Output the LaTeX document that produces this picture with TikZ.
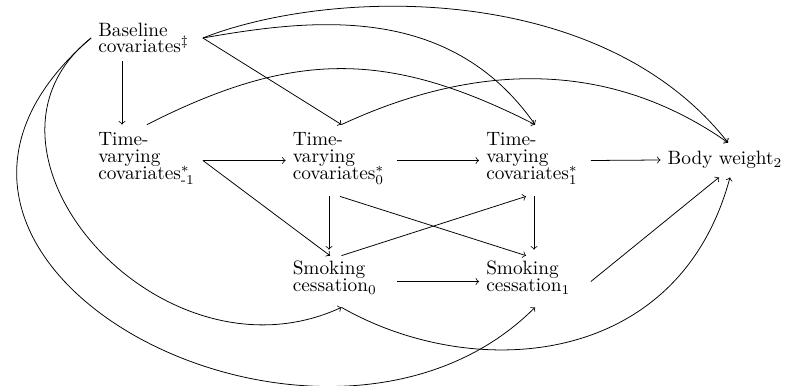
\documentclass[tikz,border=0pt]{standalone}
\usepackage{amsmath}
\usetikzlibrary{calc}
\begin{document}
\begin{tikzpicture}[x=0.518pt,y=-0.518pt,
  box/.style={inner xsep=3.5pt, inner ysep=0pt, text width=50.5pt, align=left,
    font={\fontsize{10pt}{8.65pt}\selectfont\lineskiplimit=-50pt}},
  twol/.style={box, minimum height=23.8pt},
  threel/.style={box, minimum height=36.8pt},
  arr/.style={->},
  vshort/.style={->, shorten >=3.1pt}]
\useasboundingbox (0,0) rectangle (788,386);

\node[twol]   (B)  at (147,38)    {Baseline\\covariates$^{\ddagger}$};
\node[threel] (Tm) at (147,160.5) {Time-\\varying\\covariates$^{*}_{\text{-1}}$\rule[-4.5pt]{0pt}{1pt}};
\node[threel] (T0) at (341.5,160.5) {Time-\\varying\\covariates$^{*}_{0}$\rule[-4.5pt]{0pt}{1pt}};
\node[threel] (T1) at (535,160.5) {Time-\\varying\\covariates$^{*}_{1}$\rule[-4.5pt]{0pt}{1pt}};
\node[box, minimum height=26.4pt] (S0) at (341.5,281.5) {Smoking\\cessation$_{0}$\rule[-5.5pt]{0pt}{1pt}};
\node[box, minimum height=26.4pt] (S1) at (535,281.5) {Smoking\\cessation$_{1}$\rule[-5.5pt]{0pt}{1pt}};
\node[inner xsep=3.5pt, inner ysep=0pt, minimum height=17.6pt, font=\fontsize{10pt}{12pt}\selectfont] (BW) at (725,160) {Body weight$_{2}$};

% straight connectors
\draw[arr] ($(B.south)+(-25,0)$) -- ($(Tm.north)+(-25,0)$);
\draw[arr] (B.east) -- (T0.north);
\draw[arr] (Tm.east) -- (T0.west);
\draw[arr] (T0.east) -- (T1.west);
\draw[arr] (T1.east) -- (BW.west);
\draw[arr] (Tm.east) -- ($(S0.north)+(-11.5,0)$);
\draw[vshort] ($(T0.south)+(-12.5,0)$) -- ($(S0.north)+(-12.5,0)$);
\draw[vshort] ($(T1.south)+(-1,0)$) -- ($(S1.north)+(-1,0)$);
\draw[arr] ($(T0.south)+(-1.5,0)$) -- ($(S1.north)+(-9,0)$);
\draw[arr] (S0.north) -- ($(T1.south)+(-9,0)$);
\draw[arr] (S0.east) -- (S1.west);
\draw[arr] (S1.east) -- ($(BW.south)+(-6,0)$);

% curved connectors
\draw[arr] (B.east) .. controls (311,19) and (449,2) .. (T1.north);
\draw[arr] (B.east) .. controls (330,-12) and (600,-20) .. ($(BW.north)+(3,0)$);
\draw[arr] (Tm.north) .. controls (294,50) and (388,50) .. (T1.north);
\draw[arr] (T0.north) .. controls (459,70) and (597,51) .. ($(BW.north)+(3,0)$);
\draw[arr] (B.west) .. controls (-50,150) and (160,391) .. (S0.south);
\draw[arr] (B.west) .. controls (-170,262) and (323,519) .. (S1.south);
\draw[arr] (S0.south) .. controls (472,382) and (678,370) .. ($(BW.south)+(5,0)$);
\end{tikzpicture}
\end{document}
